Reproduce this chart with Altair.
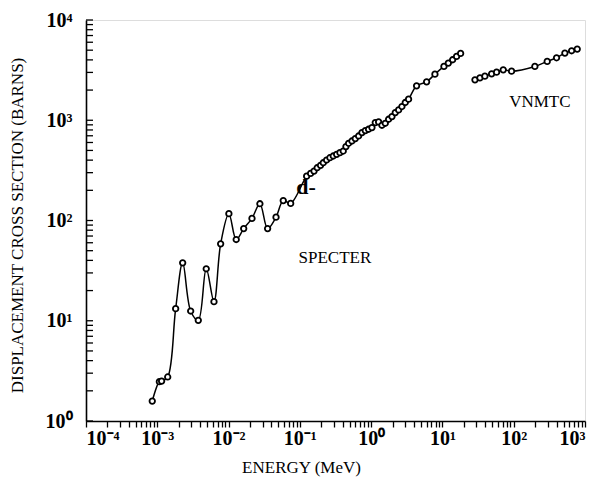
import altair as alt
import pandas as pd

# SPECTER series (energy in MeV, displacement cross section in barns)
spec_E = [8.5e-4, 1.07e-3, 1.15e-3, 1.4e-3, 1.81e-3, 2.27e-3, 2.94e-3, 3.76e-3,
          4.86e-3, 6.24e-3, 7.74e-3, 1.01e-2, 1.28e-2, 1.63e-2, 2.13e-2, 2.75e-2,
          3.53e-2, 4.63e-2, 5.85e-2, 7.43e-2,
          0.1245, 0.1416, 0.158, 0.175, 0.195, 0.213, 0.237, 0.264, 0.294, 0.328,
          0.365, 0.406, 0.443, 0.483, 0.538, 0.599, 0.667, 0.743, 0.828, 0.920,
          1.026, 1.143, 1.273, 1.417, 1.578, 1.758, 1.958, 2.18, 2.43, 2.70,
          3.01, 3.35, 4.34, 6.0, 7.85, 10.5, 12.1, 13.9, 15.8, 18.0]
spec_S = [1.58, 2.47, 2.5, 2.75, 13.2, 37.8, 12.5, 10.1,
          33.0, 15.5, 58.5, 117, 64.6, 83, 105, 147,
          83, 108, 158, 148,
          277, 295, 311, 336, 355, 377, 401, 423, 440, 457,
          475, 493, 546, 589, 621, 656, 697, 753, 788, 813,
          845, 948, 962, 891, 933, 1023, 1088, 1193, 1268, 1370,
          1503, 1622, 2205, 2417, 2884, 3441, 3715, 4013, 4333, 4645]

# VNMTC series
vn_E = [28.6, 33.6, 39.4, 49.0, 57.5, 71.3, 93.3, 198, 295, 399, 522, 649, 778]
vn_S = [2529, 2649, 2754, 2904, 3020, 3184, 3090, 3443, 3864, 4198, 4677, 4932, 5129]

# Annotation labels
lab_text = ["SPECTER", "VNMTC"]
lab_E = [0.31, 233]
lab_S = [42.7, 1514]

FONT = "Liberation Serif"

df = pd.concat([
    pd.DataFrame({"E": spec_E, "S": spec_S, "series": "SPECTER"}),
    pd.DataFrame({"E": vn_E, "S": vn_S, "series": "VNMTC"}),
], ignore_index=True)

x_ticks = [m * 10.0 ** d for d in range(-4, 3) for m in range(1, 10)] + [1000.0]
y_ticks = [m * 10.0 ** d for d in range(0, 4) for m in range(1, 10)] + [10000.0]
y_major = [1, 10, 100, 1000, 10000]

sup = "['⁻⁴','⁻³','⁻²','⁻¹','⁰','¹','²','³','⁴']"
exp_idx = "round(log(datum.value)/LN10)"
lab_expr = ("abs(log(datum.value)/LN10 - " + exp_idx + ") < 0.001 ? '10' + "
            + sup + "[" + exp_idx + " + 4] : ''")

xscale = alt.Scale(type="log", domain=[1e-4, 1e3], nice=False)
yscale = alt.Scale(type="log", domain=[1, 1e4], nice=False)

xaxis = alt.Axis(values=x_ticks, labelExpr=lab_expr, labelOverlap=False,
                 tickSize=6, tickColor="black", domainColor="black",
                 domainWidth=1.6, tickWidth=1.3, grid=False,
                 labelFont=FONT, labelFontSize=20, labelFontWeight="bold",
                 labelColor="black", labelPadding=1,
                 title="ENERGY (MeV)", titleFont=FONT,
                 titleFontSize=17, titleFontWeight="normal", titleColor="black",
                 titleX=215, titleY=46, titleBaseline="middle")
yaxis = alt.Axis(values=y_major, labelExpr=lab_expr, labelOverlap=False,
                 tickSize=0, domainColor="black", domainWidth=1.6, grid=False,
                 labelFont=FONT, labelFontSize=20, labelFontWeight="bold",
                 labelColor="black", labelPadding=14,
                 title="DISPLACEMENT CROSS SECTION (BARNS)",
                 titleFont=FONT, titleFontSize=17, titleFontWeight="normal",
                 titleColor="black", titleX=-69, titleY=205, titleBaseline="middle")

base = alt.Chart(df)

lines = base.mark_line(color="black", strokeWidth=1.5, interpolate="catmull-rom").encode(
    x=alt.X("E:Q", scale=xscale, axis=xaxis),
    y=alt.Y("S:Q", scale=yscale, axis=yaxis),
    detail="series:N",
)
points = base.mark_point(shape="circle", size=30, filled=False, color="black",
                         fill="white", fillOpacity=1, strokeWidth=1.8).encode(
    x=alt.X("E:Q", scale=xscale),
    y=alt.Y("S:Q", scale=yscale),
)

yt = pd.DataFrame({"S": y_ticks})
yticks = alt.Chart(yt).mark_rule(color="black", strokeWidth=1.3).encode(
    x=alt.value(0), x2=alt.value(7), y=alt.Y("S:Q", scale=yscale))

labels = alt.Chart(pd.DataFrame({"t": lab_text, "E": lab_E, "S": lab_S})).mark_text(
    font=FONT, fontSize=17, color="black", align="center", baseline="middle").encode(
    x=alt.X("E:Q", scale=xscale), y=alt.Y("S:Q", scale=yscale), text="t:N")

dlab = alt.Chart(pd.DataFrame({"t": ["d-"], "E": [0.122], "S": [214]})).mark_text(
    font=FONT, fontSize=22, fontWeight="bold", color="black", align="center",
    baseline="middle").encode(
    x=alt.X("E:Q", scale=xscale), y=alt.Y("S:Q", scale=yscale), text="t:N")

chart = alt.layer(lines, points, yticks, labels, dlab).properties(
    width=499, height=401,
    autosize=alt.AutoSizeParams(type="none"),
    padding={"left": 86, "top": 20, "right": 16, "bottom": 59},
).configure_view(stroke=None).configure(background="white")

chart.save("out.html", embed_options={"renderer": "svg", "actions": False})
